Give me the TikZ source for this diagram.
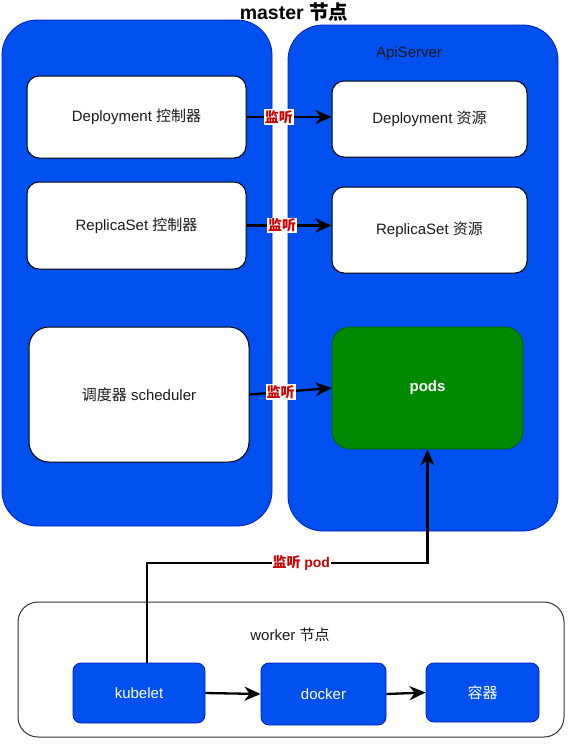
\documentclass[tikz,border=0pt]{standalone}
\usepackage{fontspec}
\setmainfont{Liberation Sans}
\newfontfamily\cjk{Noto Sans CJK SC}
\usetikzlibrary{arrows.meta,positioning,calc}
\definecolor{dblue}{HTML}{0050EF}
\definecolor{dbluestroke}{HTML}{001DBC}
\definecolor{dgreen}{HTML}{008A00}
\definecolor{dgreenstroke}{HTML}{005700}
\definecolor{lblred}{HTML}{CC0000}
\definecolor{txt}{HTML}{1A1A1A}
\tikzset{
  container/.style={draw=dbluestroke, fill=dblue, line width=0.8pt, rounded corners=35pt, inner sep=0pt},
  whitebox/.style={draw=black, fill=white, line width=1pt, rounded corners=12pt, inner sep=0pt, text=txt, font=\fontsize{15}{17}\selectfont},
  bluebox/.style={draw=dbluestroke, fill=dblue, line width=0.8pt, rounded corners=8pt, inner sep=0pt, text=white, font=\fontsize{15}{17}\selectfont},
  greenbox/.style={draw=dgreenstroke, fill=dgreen, line width=0.8pt, rounded corners=18pt, inner sep=0pt, text=white, font=\bfseries\fontsize{15}{17}\selectfont},
  workerbox/.style={draw=black!80, fill=white, line width=1pt, rounded corners=20pt, inner sep=0pt},
  arr/.style={line width=2.3pt, -{Stealth[length=16pt,width=14pt,inset=5pt]}},
  lbl/.style={fill=white, text=lblred, inner sep=1pt, font=\bfseries\fontsize{14}{16}\selectfont},
  plain/.style={inner sep=0pt, text=txt, font=\fontsize{15}{17}\selectfont},
}
\begin{document}
\begin{tikzpicture}[x=1pt,y=-1pt]
\useasboundingbox (0,0) rectangle (575,745);
% containers
\node[container, minimum width=270pt, minimum height=506pt] (left) at (137,273) {};
\node[container, minimum width=270pt, minimum height=506pt] (right) at (423,278) {};
\node[inner sep=0pt, font=\bfseries\fontsize{19.5}{21}\selectfont, text=black] (title) at (294,12) {master {\cjk 节点}};
\node[plain] (api) at (409,54) {ApiServer};
% left column
\node[whitebox, minimum width=219pt, minimum height=82pt] (depc) at (136.5,117) {Deployment {\cjk 控制器}};
\node[whitebox, minimum width=219pt, minimum height=87pt] (rsc) at (136.5,225.5) {ReplicaSet {\cjk 控制器}};
\node[whitebox, rounded corners=20pt, minimum width=220pt, minimum height=135pt] (sch) at (139,394.5) {{\cjk 调度器} scheduler};
% right column
\node[whitebox, minimum width=195pt, minimum height=76pt] (depr) at (429.5,119) {Deployment {\cjk 资源}};
\node[whitebox, minimum width=195pt, minimum height=86pt] (rsr) at (429.5,230) {ReplicaSet {\cjk 资源}};
\node[greenbox, minimum width=191pt, minimum height=122pt] (pods) at (427.5,388) {pods};
% worker
\node[workerbox, minimum width=546pt, minimum height=135pt] (worker) at (291,669.5) {};
\node[plain] (wlabel) at (290,635) {worker {\cjk 节点}};
\node[bluebox, minimum width=132pt, minimum height=60pt] (kub) at (139,693) {kubelet};
\node[bluebox, minimum width=125pt, minimum height=62pt] (dock) at (323.5,694) {docker};
\node[bluebox, minimum width=113pt, minimum height=59pt] (rq) at (482.5,692.5) {\cjk 容器};
% arrows
\draw[arr] (depc.east) -- node[lbl, pos=0.38] {\cjk 监听} (depc.east -| depr.west);
\draw[arr] (rsc.east) -- node[lbl, pos=0.42] {\cjk 监听} (rsc.east -| rsr.west);
\draw[arr] (sch.east) -- node[lbl, pos=0.38] {\cjk 监听} (pods.west);
\coordinate (mid) at (0,563);
\draw[arr] ([xshift=8pt]kub.north) -- ([xshift=8pt]kub.north |- mid) -| node[lbl, pos=0.275] {{\cjk 监听} pod} (pods.south);
\draw[arr] (kub.east) -- (dock.west);
\draw[arr] (dock.east) -- (rq.west);
\end{tikzpicture}
\end{document}
